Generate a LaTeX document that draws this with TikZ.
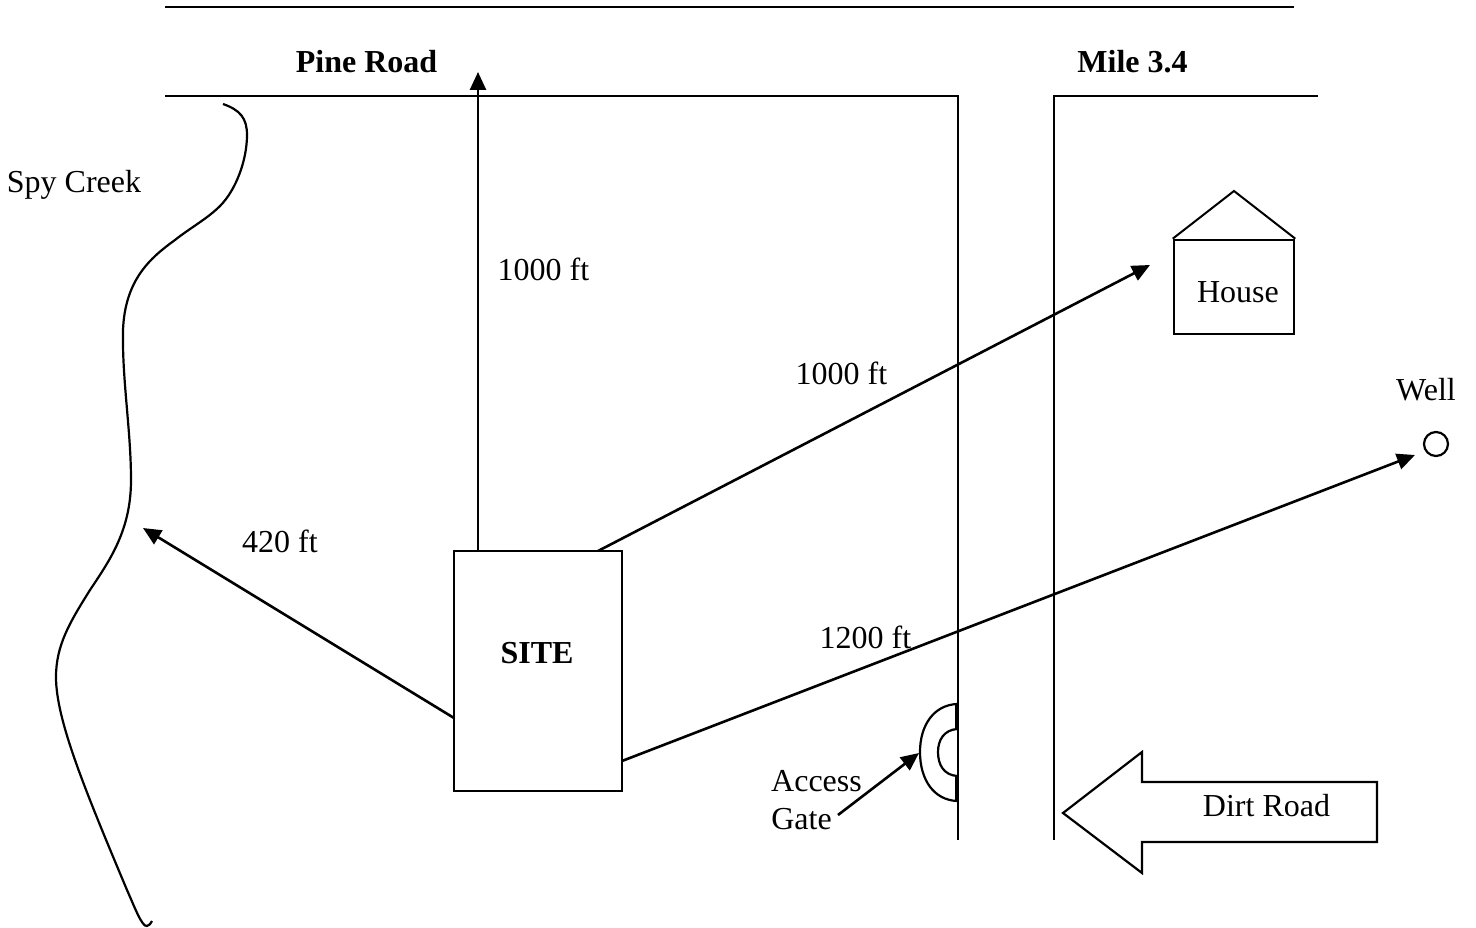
\documentclass[tikz,border=0pt]{standalone}
\usepackage{fontspec}
\setmainfont{Liberation Serif}
\usetikzlibrary{arrows.meta}
\tikzset{
  ln/.style={line width=2.6pt,black},
  arr/.style={ln,-{Triangle[length=18pt,width=16pt]}},
  txt/.style={inner sep=0pt,anchor=base,font=\fontsize{32}{36}\selectfont},
  btxt/.style={txt,font=\fontsize{32}{36}\selectfont\bfseries},
  boxn/.style={draw,line width=2.6pt,inner sep=0pt,minimum width=168pt,minimum height=240pt},
  thin curve/.style={line width=2.2pt,black}
}
\begin{document}
\begin{tikzpicture}[x=1pt,y=-1pt]
\useasboundingbox (0,0) rectangle (1476,928);
% roads
\coordinate (t1) at (165,7); \coordinate (t2) at (1294,7);
\draw[ln] (t1) -- (t2);
\coordinate (r1) at (165,96); \coordinate (r2) at (958,96); \coordinate (r3) at (958,840);
\draw[ln] (r1) -- (r2) -- (r3);
\coordinate (s1) at (1318,96); \coordinate (s2) at (1054,96); \coordinate (s3) at (1054,840);
\draw[ln] (s1) -- (s2) -- (s3);
% creek
\draw[thin curve] (223,104) .. controls (240,110) and (247,118) .. (247,135)
  .. controls (247,160) and (236,190) .. (220,206)
  .. controls (207,219) and (190,228) .. (175,240)
  .. controls (150,258) and (125,280) .. (123,330)
  .. controls (122,380) and (131,430) .. (131,480)
  .. controls (131,530) and (110,560) .. (90,590)
  .. controls (70,622) and (56,645) .. (56,677)
  .. controls (56,720) and (85,790) .. (127,890)
  .. controls (135,908) and (142,927) .. (147,926)
  .. controls (149,926) and (151,923) .. (152,921);
% site
\node[boxn] (site) at (538,671) {};
\node[btxt] (sitelabel) at (537,663) {SITE};
% house
\node[draw,line width=2.6pt,inner sep=0pt,minimum width=120pt,minimum height=94pt] (house) at (1234,287) {};
\coordinate (roof) at (1234,191);
\draw[line width=2pt,line join=miter] (house.north west) -- (roof) -- (house.north east);
\node[txt] (houselabel) at (1238,302) {House};
% well
\node[draw,circle,line width=2.2pt,inner sep=0pt,minimum size=24pt] (well) at (1436,444) {};
\node[txt] (welllabel) at (1426,400) {Well};
% arrows
\coordinate (aN0) at (478,551); \coordinate (aN1) at (478,72);
\draw[arr] (aN0) -- (aN1);
\coordinate (aH0) at (598,551); \coordinate (aH1) at (1150,265);
\draw[arr] (aH0) -- (aH1);
\coordinate (aW0) at (622,761); \coordinate (aW1) at (1415,455);
\draw[arr] (aW0) -- (aW1);
\coordinate (aC0) at (454,718); \coordinate (aC1) at (143,528);
\draw[arr] (aC0) -- (aC1);
% gate
\coordinate (g1) at (957,704); \coordinate (g2) at (957,801);
\coordinate (g3) at (957,729); \coordinate (g4) at (957,776);
\draw[thin curve] (g1) .. controls (934,705) and (920,725) .. (920,752) .. controls (920,780) and (934,800) .. (g2);
\draw[thin curve] (g3) .. controls (944,730) and (938,740) .. (938,752) .. controls (938,765) and (944,775) .. (g4);
\draw[line width=3.4pt] (g1) -- (g3) (g4) -- (g2);
\coordinate (ga0) at (838,815); \coordinate (ga1) at (919,753);
\draw[arr] (ga0) -- (ga1);
% dirt road arrow
\coordinate (d0) at (1063,813); \coordinate (d1) at (1142,752); \coordinate (d2) at (1142,782);
\coordinate (d3) at (1377,782); \coordinate (d4) at (1377,842); \coordinate (d5) at (1142,842); \coordinate (d6) at (1142,873);
\draw[line width=2.2pt,line join=miter] (d0) -- (d1) -- (d2) -- (d3) -- (d4) -- (d5) -- (d6) -- cycle;
% labels
\node[btxt] (pine) at (366.5,73) {Pine Road};
\node[btxt] (mile) at (1132.5,73) {Mile 3.4};
\node[txt] (spy) at (74,193) {Spy Creek};
\node[txt] (l1) at (543.5,280) {1000 ft};
\node[txt] (l2) at (841.5,384) {1000 ft};
\node[txt] (l3) at (280,552) {420 ft};
\node[txt] (l4) at (865.5,648) {1200 ft};
\node[txt] (acc) at (816.5,791) {Access};
\node[txt] (gate) at (801.5,829) {Gate};
\node[txt] (dirt) at (1266.5,816) {Dirt Road};
\end{tikzpicture}
\end{document}
